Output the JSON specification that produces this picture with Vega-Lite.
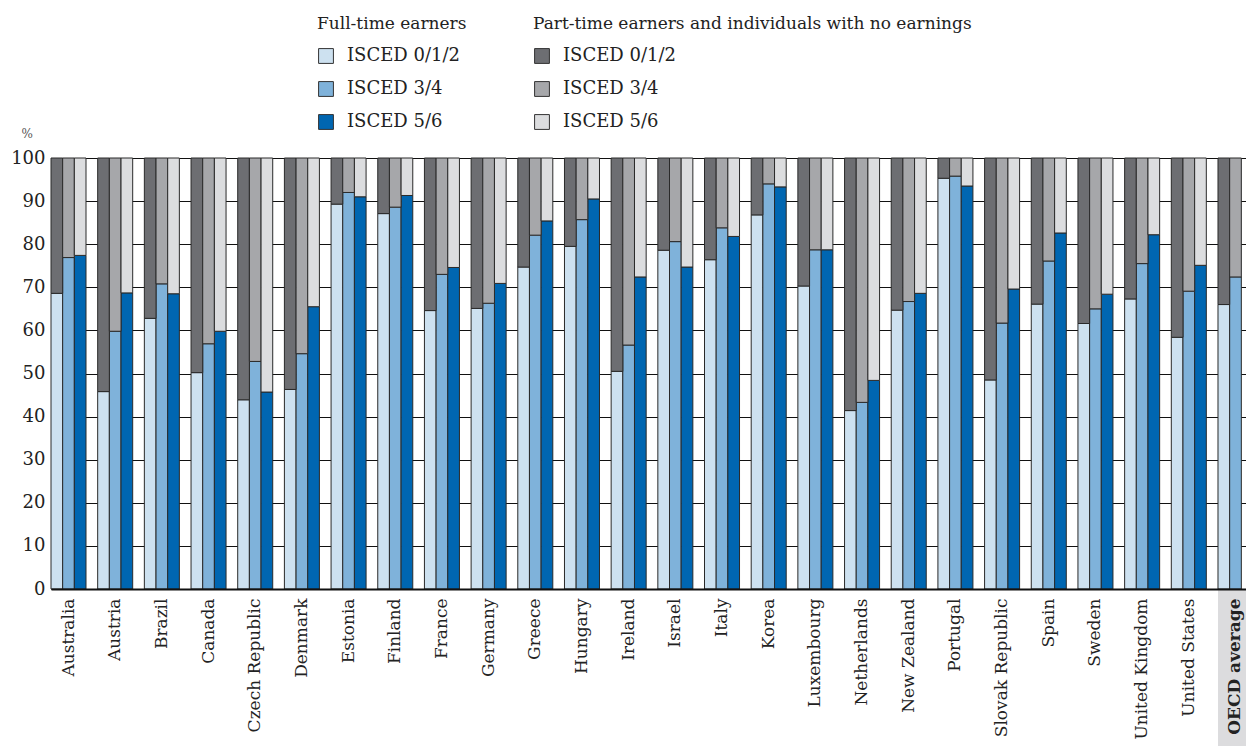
{
  "$schema": "https://vega.github.io/schema/vega-lite/v6.json",
  "autosize": "none",
  "width": 1195,
  "height": 431,
  "padding": {"left": 51, "top": 158, "right": 0, "bottom": 157},
  "background": "white",
  "data": {
    "values": [
      {"country": "Australia", "level": "ISCED 0/1/2", "fulltime": 68.6},
      {"country": "Australia", "level": "ISCED 3/4", "fulltime": 76.9},
      {"country": "Australia", "level": "ISCED 5/6", "fulltime": 77.4},
      {"country": "Austria", "level": "ISCED 0/1/2", "fulltime": 45.8},
      {"country": "Austria", "level": "ISCED 3/4", "fulltime": 59.8},
      {"country": "Austria", "level": "ISCED 5/6", "fulltime": 68.7},
      {"country": "Brazil", "level": "ISCED 0/1/2", "fulltime": 62.8},
      {"country": "Brazil", "level": "ISCED 3/4", "fulltime": 70.8},
      {"country": "Brazil", "level": "ISCED 5/6", "fulltime": 68.5},
      {"country": "Canada", "level": "ISCED 0/1/2", "fulltime": 50.2},
      {"country": "Canada", "level": "ISCED 3/4", "fulltime": 56.9},
      {"country": "Canada", "level": "ISCED 5/6", "fulltime": 59.8},
      {"country": "Czech Republic", "level": "ISCED 0/1/2", "fulltime": 43.9},
      {"country": "Czech Republic", "level": "ISCED 3/4", "fulltime": 52.8},
      {"country": "Czech Republic", "level": "ISCED 5/6", "fulltime": 45.7},
      {"country": "Denmark", "level": "ISCED 0/1/2", "fulltime": 46.3},
      {"country": "Denmark", "level": "ISCED 3/4", "fulltime": 54.6},
      {"country": "Denmark", "level": "ISCED 5/6", "fulltime": 65.5},
      {"country": "Estonia", "level": "ISCED 0/1/2", "fulltime": 89.3},
      {"country": "Estonia", "level": "ISCED 3/4", "fulltime": 92.0},
      {"country": "Estonia", "level": "ISCED 5/6", "fulltime": 91.0},
      {"country": "Finland", "level": "ISCED 0/1/2", "fulltime": 87.1},
      {"country": "Finland", "level": "ISCED 3/4", "fulltime": 88.6},
      {"country": "Finland", "level": "ISCED 5/6", "fulltime": 91.3},
      {"country": "France", "level": "ISCED 0/1/2", "fulltime": 64.6},
      {"country": "France", "level": "ISCED 3/4", "fulltime": 73.0},
      {"country": "France", "level": "ISCED 5/6", "fulltime": 74.6},
      {"country": "Germany", "level": "ISCED 0/1/2", "fulltime": 65.1},
      {"country": "Germany", "level": "ISCED 3/4", "fulltime": 66.3},
      {"country": "Germany", "level": "ISCED 5/6", "fulltime": 70.9},
      {"country": "Greece", "level": "ISCED 0/1/2", "fulltime": 74.7},
      {"country": "Greece", "level": "ISCED 3/4", "fulltime": 82.1},
      {"country": "Greece", "level": "ISCED 5/6", "fulltime": 85.4},
      {"country": "Hungary", "level": "ISCED 0/1/2", "fulltime": 79.5},
      {"country": "Hungary", "level": "ISCED 3/4", "fulltime": 85.7},
      {"country": "Hungary", "level": "ISCED 5/6", "fulltime": 90.5},
      {"country": "Ireland", "level": "ISCED 0/1/2", "fulltime": 50.5},
      {"country": "Ireland", "level": "ISCED 3/4", "fulltime": 56.6},
      {"country": "Ireland", "level": "ISCED 5/6", "fulltime": 72.4},
      {"country": "Israel", "level": "ISCED 0/1/2", "fulltime": 78.6},
      {"country": "Israel", "level": "ISCED 3/4", "fulltime": 80.6},
      {"country": "Israel", "level": "ISCED 5/6", "fulltime": 74.7},
      {"country": "Italy", "level": "ISCED 0/1/2", "fulltime": 76.4},
      {"country": "Italy", "level": "ISCED 3/4", "fulltime": 83.8},
      {"country": "Italy", "level": "ISCED 5/6", "fulltime": 81.8},
      {"country": "Korea", "level": "ISCED 0/1/2", "fulltime": 86.8},
      {"country": "Korea", "level": "ISCED 3/4", "fulltime": 94.0},
      {"country": "Korea", "level": "ISCED 5/6", "fulltime": 93.3},
      {"country": "Luxembourg", "level": "ISCED 0/1/2", "fulltime": 70.3},
      {"country": "Luxembourg", "level": "ISCED 3/4", "fulltime": 78.7},
      {"country": "Luxembourg", "level": "ISCED 5/6", "fulltime": 78.7},
      {"country": "Netherlands", "level": "ISCED 0/1/2", "fulltime": 41.4},
      {"country": "Netherlands", "level": "ISCED 3/4", "fulltime": 43.3},
      {"country": "Netherlands", "level": "ISCED 5/6", "fulltime": 48.4},
      {"country": "New Zealand", "level": "ISCED 0/1/2", "fulltime": 64.7},
      {"country": "New Zealand", "level": "ISCED 3/4", "fulltime": 66.7},
      {"country": "New Zealand", "level": "ISCED 5/6", "fulltime": 68.6},
      {"country": "Portugal", "level": "ISCED 0/1/2", "fulltime": 95.3},
      {"country": "Portugal", "level": "ISCED 3/4", "fulltime": 95.8},
      {"country": "Portugal", "level": "ISCED 5/6", "fulltime": 93.5},
      {"country": "Slovak Republic", "level": "ISCED 0/1/2", "fulltime": 48.5},
      {"country": "Slovak Republic", "level": "ISCED 3/4", "fulltime": 61.7},
      {"country": "Slovak Republic", "level": "ISCED 5/6", "fulltime": 69.6},
      {"country": "Spain", "level": "ISCED 0/1/2", "fulltime": 66.1},
      {"country": "Spain", "level": "ISCED 3/4", "fulltime": 76.1},
      {"country": "Spain", "level": "ISCED 5/6", "fulltime": 82.6},
      {"country": "Sweden", "level": "ISCED 0/1/2", "fulltime": 61.6},
      {"country": "Sweden", "level": "ISCED 3/4", "fulltime": 65.0},
      {"country": "Sweden", "level": "ISCED 5/6", "fulltime": 68.4},
      {"country": "United Kingdom", "level": "ISCED 0/1/2", "fulltime": 67.3},
      {"country": "United Kingdom", "level": "ISCED 3/4", "fulltime": 75.5},
      {"country": "United Kingdom", "level": "ISCED 5/6", "fulltime": 82.2},
      {"country": "United States", "level": "ISCED 0/1/2", "fulltime": 58.4},
      {"country": "United States", "level": "ISCED 3/4", "fulltime": 69.1},
      {"country": "United States", "level": "ISCED 5/6", "fulltime": 75.1},
      {"country": "OECD average", "level": "ISCED 0/1/2", "fulltime": 66.0},
      {"country": "OECD average", "level": "ISCED 3/4", "fulltime": 72.4}
    ]
  },
  "encoding": {
    "x": {
      "field": "country",
      "type": "nominal",
      "sort": null,
      "title": null,
      "scale": {"range": [0, 1202], "paddingInner": 0.25, "paddingOuter": 0},
      "axis": {
        "labelAngle": -90,
        "labelFontSize": 17,
        "labelPadding": 9,
        "ticks": false,
        "domainColor": "#111",
        "domainWidth": 2,
        "zindex": 1,
        "labelFontWeight": {"condition": {"test": "datum.value === 'OECD average'", "value": "bold"}, "value": "normal"}
      }
    },
    "xOffset": {
      "field": "level",
      "type": "nominal",
      "sort": ["ISCED 0/1/2", "ISCED 3/4", "ISCED 5/6"],
      "scale": {"paddingInner": 0, "paddingOuter": 0}
    }
  },
  "layer": [
    {
      "mark": {"type": "bar", "stroke": "#2a2a2a", "strokeWidth": 1},
      "encoding": {
        "y": {
          "field": "fulltime",
          "type": "quantitative",
          "stack": null,
          "title": "%",
          "scale": {"domain": [0, 100], "nice": false},
          "axis": {
            "values": [0, 10, 20, 30, 40, 50, 60, 70, 80, 90, 100],
            "grid": true,
            "gridColor": "#111",
            "gridWidth": 1,
            "ticks": false,
            "domain": false,
            "labelFontSize": 18,
            "labelPadding": 6,
            "titleAngle": 0,
            "titleAlign": "left",
            "titleBaseline": "middle",
            "titleX": -30,
            "titleY": -25,
            "titleFontSize": 12,
            "titleFontWeight": "normal",
            "titleColor": "#555"
          }
        },
        "color": {
          "field": "level",
          "type": "nominal",
          "scale": {
            "domain": ["ISCED 0/1/2", "ISCED 3/4", "ISCED 5/6"],
            "range": ["#cde1f0", "#7fb2da", "#0066b1"]
          },
          "legend": {
            "title": "Full-time earners",
            "orient": "none",
            "legendX": 266,
            "legendY": -142
          }
        }
      }
    },
    {
      "mark": {"type": "bar", "stroke": "#2a2a2a", "strokeWidth": 1},
      "encoding": {
        "y": {"field": "fulltime", "type": "quantitative", "stack": null},
        "y2": {"datum": 100},
        "fill": {
          "field": "level",
          "type": "ordinal",
          "scale": {
            "domain": ["ISCED 0/1/2", "ISCED 3/4", "ISCED 5/6"],
            "range": ["#6d6e72", "#a6a7aa", "#dcdddf"]
          },
          "legend": {
            "title": "Part-time earners and individuals with no earnings",
            "orient": "none",
            "legendX": 482,
            "legendY": -142
          }
        }
      }
    },
    {
      "data": {"values": [{"country": "OECD average"}]},
      "mark": {"type": "rect", "color": "#dcdcde"},
      "encoding": {
        "xOffset": null,
        "y": {"datum": 0, "type": "quantitative"},
        "y2": {"datum": -37}
      }
    }
  ],
  "resolve": {"legend": {"color": "independent", "fill": "independent"}},
  "config": {
    "font": "DejaVu Serif",
    "view": {"stroke": null},
    "axis": {"labelColor": "#222", "labelFont": "DejaVu Serif"},
    "legend": {
      "titleFont": "DejaVu Serif",
      "titleFontSize": 17,
      "titleFontWeight": "normal",
      "titleColor": "#222",
      "titleLimit": 600,
      "titlePadding": 14,
      "labelFont": "DejaVu Serif",
      "labelFontSize": 18,
      "labelColor": "#222",
      "labelOffset": 12,
      "labelLimit": 300,
      "symbolType": "square",
      "symbolSize": 220,
      "symbolStrokeColor": "#333",
      "symbolStrokeWidth": 1,
      "rowPadding": 13
    }
  }
}
